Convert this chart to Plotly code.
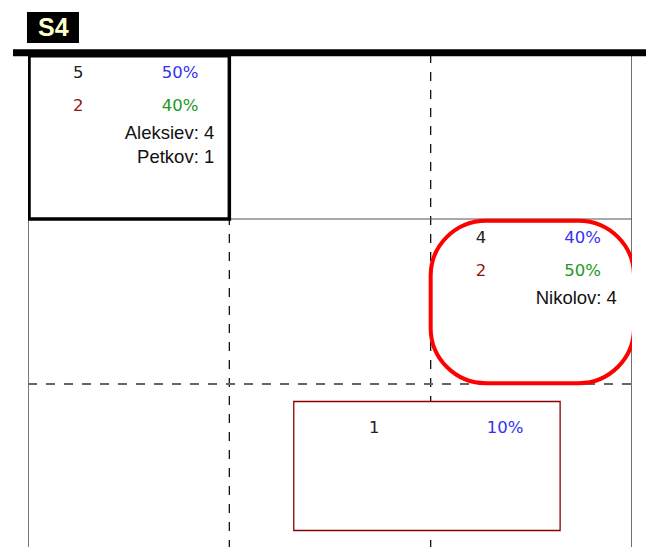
import plotly.graph_objects as go

# ---- data ----
cell_rows = [0, 1]
cell_cols = [0, 2]
first_counts = [5, 4]
first_pcts = [50, 40]
second_counts = [2, 2]
second_pcts = [40, 50]
cell_names = [["Aleksiev: 4", "Petkov: 1"], ["Nikolov: 4"]]
extra_count = [1]
extra_pct = [10]
panel_label = "S4"

NUM_FONT = "DejaVu Sans"
NAME_FONT = "Liberation Sans"
BLUE = "#3333ee"
GREEN = "#229922"
DARKRED = "#991111"
NUM_SIZE = 16.5

fig = go.Figure()

# text rows inside the highlighted cells
xs, ys, tx = [], [], []
for r, c, n in zip(cell_rows, cell_cols, first_counts):
    xs.append(c + 0.25); ys.append(r + 0.123); tx.append(str(n))
fig.add_trace(go.Scatter(x=xs, y=ys, text=tx, mode="text",
                         textfont=dict(family=NUM_FONT, size=NUM_SIZE, color="#222222")))
xs, ys, tx = [], [], []
for r, c, p in zip(cell_rows, cell_cols, first_pcts):
    xs.append(c + 0.755); ys.append(r + 0.123); tx.append(f"{p}%")
fig.add_trace(go.Scatter(x=xs, y=ys, text=tx, mode="text",
                         textfont=dict(family=NUM_FONT, size=NUM_SIZE, color=BLUE)))
xs, ys, tx = [], [], []
for r, c, n in zip(cell_rows, cell_cols, second_counts):
    xs.append(c + 0.25); ys.append(r + 0.318); tx.append(str(n))
fig.add_trace(go.Scatter(x=xs, y=ys, text=tx, mode="text",
                         textfont=dict(family=NUM_FONT, size=NUM_SIZE, color=DARKRED)))
xs, ys, tx = [], [], []
for r, c, p in zip(cell_rows, cell_cols, second_pcts):
    xs.append(c + 0.755); ys.append(r + 0.318); tx.append(f"{p}%")
fig.add_trace(go.Scatter(x=xs, y=ys, text=tx, mode="text",
                         textfont=dict(family=NUM_FONT, size=NUM_SIZE, color=GREEN)))
xs, ys, tx = [], [], []
for r, c, names in zip(cell_rows, cell_cols, cell_names):
    for i, nm in enumerate(names):
        xs.append(c + 0.925); ys.append(r + 0.486 + 0.145 * i); tx.append(nm)
fig.add_trace(go.Scatter(x=xs, y=ys, text=tx, mode="text", textposition="middle left",
                         textfont=dict(family=NAME_FONT, size=18.5, color="#111111")))
# extra box in bottom row
fig.add_trace(go.Scatter(x=[1.72], y=[2.271], text=[str(v) for v in extra_count], mode="text",
                         textfont=dict(family=NUM_FONT, size=NUM_SIZE, color="#222222")))
fig.add_trace(go.Scatter(x=[2.37], y=[2.271], text=[f"{v}%" for v in extra_pct], mode="text",
                         textfont=dict(family=NUM_FONT, size=NUM_SIZE, color=BLUE)))

shapes = []
# grid lines
shapes.append(dict(type="line", xref="x", yref="y", x0=0, x1=0, y0=0, y1=3,
                   line=dict(color="#777777", width=2), layer="below"))
for xv in [1, 2]:
    shapes.append(dict(type="line", xref="x", yref="y", x0=xv, x1=xv, y0=0, y1=3,
                       line=dict(color="#111111", width=1.3, dash="dash"), layer="below"))
shapes.append(dict(type="line", xref="x", yref="y", x0=3, x1=3, y0=0, y1=3,
                   line=dict(color="#111111", width=1.2), layer="below"))
shapes.append(dict(type="line", xref="x", yref="y", x0=0, x1=3, y0=1, y1=1,
                   line=dict(color="#555555", width=1.2), layer="below"))
shapes.append(dict(type="line", xref="x", yref="y", x0=0, x1=3, y0=2, y1=2,
                   line=dict(color="#666666", width=2, dash="dash"), layer="below"))
# thick top rule
PLOT_H = 493.0
shapes.append(dict(type="line", xref="paper", yref="paper", x0=-0.0248, x1=1.0248,
                   y0=1.0 + 1.2 / PLOT_H, y1=1.0 + 1.2 / PLOT_H, line=dict(color="black", width=7)))
# highlighted cell (0,0)
shapes.append(dict(type="rect", xref="x", yref="y", x0=0.005, x1=1.0, y0=0.01, y1=1.0,
                   line=dict(color="black", width=3.5)))
# rounded red box cell (1,2)
x0, x1, y0, y1 = 2.0, 3.01, 1.01, 1.995
rx, ry = 0.275, 0.335
k = 0.5523
path = (f"M {x0+rx},{y0} L {x1-rx},{y0} "
        f"C {x1-rx+k*rx},{y0} {x1},{y0+ry-k*ry} {x1},{y0+ry} "
        f"L {x1},{y1-ry} "
        f"C {x1},{y1-ry+k*ry} {x1-rx+k*rx},{y1} {x1-rx},{y1} "
        f"L {x0+rx},{y1} "
        f"C {x0+rx-k*rx},{y1} {x0},{y1-ry+k*ry} {x0},{y1-ry} "
        f"L {x0},{y0+ry} "
        f"C {x0},{y0+ry-k*ry} {x0+rx-k*rx},{y0} {x0+rx},{y0} Z")
shapes.append(dict(type="path", xref="x", yref="y", path=path, fillcolor="white",
                   line=dict(color="#ff0000", width=4), layer="below"))
# extra box bottom row
shapes.append(dict(type="rect", xref="x", yref="y", x0=1.32, x1=2.643, y0=2.106, y1=2.888,
                   fillcolor="white", line=dict(color="#8b0000", width=1.3), layer="below"))
# label box (paper coords relative to a 604x493 plot area)
shapes.append(dict(type="rect", xref="paper", yref="paper", x0=-0.0017, x1=0.0844,
                   y0=1.0 + 11 / PLOT_H, y1=1.0 + 42 / PLOT_H, fillcolor="black", line=dict(width=0)))

# page body has an 8px default margin: shrink the figure so the plot area lands where it should
fig.update_layout(
    width=646, height=539,
    margin=dict(l=20, r=22, t=46, b=0),
    paper_bgcolor="white", plot_bgcolor="white",
    showlegend=False,
    shapes=shapes,
    xaxis=dict(range=[0, 3], visible=False, fixedrange=True),
    yaxis=dict(range=[PLOT_H / 165.0, 0], visible=False, fixedrange=True),
    annotations=[dict(xref="paper", yref="paper", x=0.0414, y=1.0 + 26.5 / PLOT_H,
                      text=f"<b>{panel_label}</b>",
                      showarrow=False, xanchor="center", yanchor="middle",
                      font=dict(family="Liberation Sans", size=25, color="#ffffcc"))],
)

fig.write_html("out.html")
